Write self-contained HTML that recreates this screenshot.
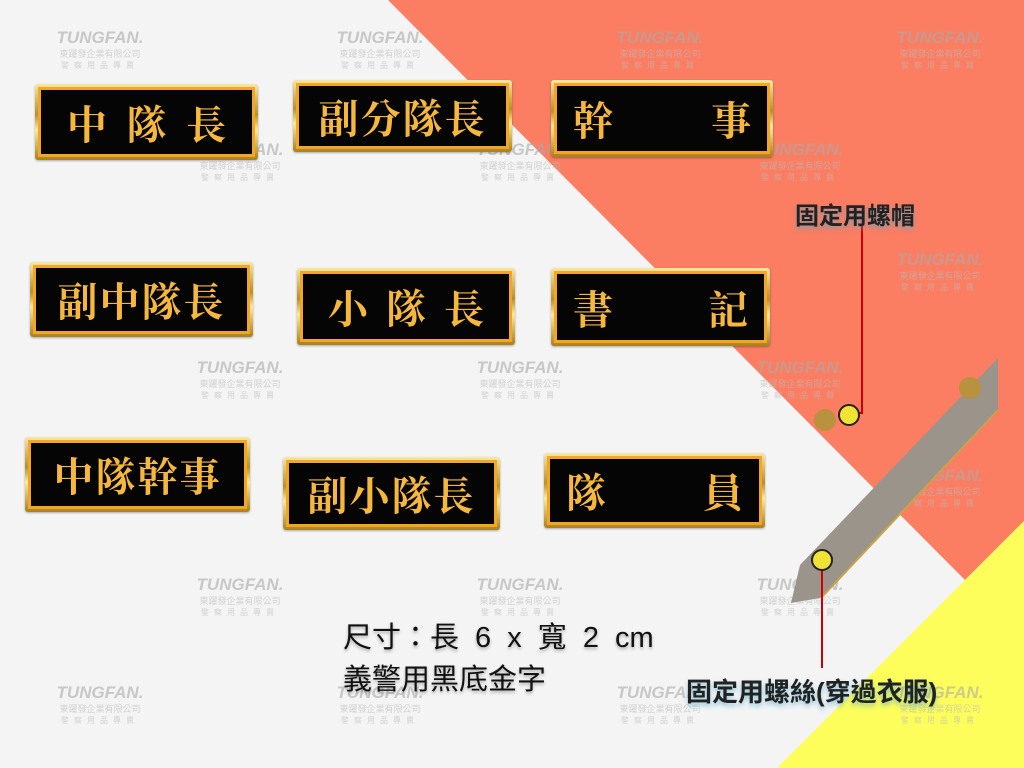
<!DOCTYPE html>
<html><head><meta charset="utf-8"><style>
body{margin:0;width:1024px;height:768px;overflow:hidden;background:#f4f4f4;position:relative;font-family:"Liberation Sans","Noto Sans CJK TC",sans-serif}
svg.bg{position:absolute;left:0;top:0}
.wm{position:absolute;width:100px;text-align:center;color:#bbb;opacity:.6}
.wm b{display:block;font:italic bold 17px "Liberation Sans",sans-serif;color:#aaa}
.wm i{display:block;font-style:normal;font-size:9px;line-height:12px}
.wm s{display:block;text-decoration:none;font-size:8px;letter-spacing:5px;line-height:11px}
.bd{position:absolute;box-sizing:border-box;background:linear-gradient(#f6e7a6,#b8902a 40%,#fbe9a0 60%,#a8801c);padding:3px;border-radius:3px;box-shadow:0 1px 2px rgba(0,0,0,.3)}
.bd div{width:100%;height:100%;box-sizing:border-box;background:#050505;border:3px solid #f2a623;display:flex;align-items:center;justify-content:space-around;padding:0 16px;color:#f6b83c;font:bold 40px "Noto Serif CJK TC","Noto Serif CJK SC",serif}
.lbl{position:absolute;font-weight:bold;color:#222;text-shadow:0 3px 5px rgba(80,170,200,.6);white-space:nowrap}
</style></head><body>
<svg class="bg" width="1024" height="768">
<polygon points="388,0 1024,0 1024,521 965,580" fill="#fb7d62"/>
<polygon points="1024,521 1024,768 777,768" fill="#fdfd5c"/>
</svg>
<div class="wm" style="left:50px;top:28px"><b>TUNGFAN.</b><i>東躍發企業有限公司</i><s>警察用品專賣</s></div>
<div class="wm" style="left:330px;top:28px"><b>TUNGFAN.</b><i>東躍發企業有限公司</i><s>警察用品專賣</s></div>
<div class="wm" style="left:610px;top:28px"><b>TUNGFAN.</b><i>東躍發企業有限公司</i><s>警察用品專賣</s></div>
<div class="wm" style="left:890px;top:28px"><b>TUNGFAN.</b><i>東躍發企業有限公司</i><s>警察用品專賣</s></div>
<div class="wm" style="left:190px;top:140px"><b>TUNGFAN.</b><i>東躍發企業有限公司</i><s>警察用品專賣</s></div>
<div class="wm" style="left:470px;top:140px"><b>TUNGFAN.</b><i>東躍發企業有限公司</i><s>警察用品專賣</s></div>
<div class="wm" style="left:750px;top:140px"><b>TUNGFAN.</b><i>東躍發企業有限公司</i><s>警察用品專賣</s></div>
<div class="wm" style="left:890px;top:250px"><b>TUNGFAN.</b><i>東躍發企業有限公司</i><s>警察用品專賣</s></div>
<div class="wm" style="left:190px;top:358px"><b>TUNGFAN.</b><i>東躍發企業有限公司</i><s>警察用品專賣</s></div>
<div class="wm" style="left:470px;top:358px"><b>TUNGFAN.</b><i>東躍發企業有限公司</i><s>警察用品專賣</s></div>
<div class="wm" style="left:750px;top:358px"><b>TUNGFAN.</b><i>東躍發企業有限公司</i><s>警察用品專賣</s></div>
<div class="wm" style="left:890px;top:466px"><b>TUNGFAN.</b><i>東躍發企業有限公司</i><s>警察用品專賣</s></div>
<div class="wm" style="left:190px;top:575px"><b>TUNGFAN.</b><i>東躍發企業有限公司</i><s>警察用品專賣</s></div>
<div class="wm" style="left:470px;top:575px"><b>TUNGFAN.</b><i>東躍發企業有限公司</i><s>警察用品專賣</s></div>
<div class="wm" style="left:750px;top:575px"><b>TUNGFAN.</b><i>東躍發企業有限公司</i><s>警察用品專賣</s></div>
<div class="wm" style="left:50px;top:683px"><b>TUNGFAN.</b><i>東躍發企業有限公司</i><s>警察用品專賣</s></div>
<div class="wm" style="left:330px;top:683px"><b>TUNGFAN.</b><i>東躍發企業有限公司</i><s>警察用品專賣</s></div>
<div class="wm" style="left:610px;top:683px"><b>TUNGFAN.</b><i>東躍發企業有限公司</i><s>警察用品專賣</s></div>
<div class="wm" style="left:890px;top:683px"><b>TUNGFAN.</b><i>東躍發企業有限公司</i><s>警察用品專賣</s></div>

<div class="bd" style="left:35px;top:84px;width:223px;height:76px"><div><span>中</span><span>隊</span><span>長</span></div></div>
<div class="bd" style="left:293px;top:80px;width:219px;height:72px"><div style="justify-content:center;letter-spacing:2px">副分隊長</div></div>
<div class="bd" style="left:551px;top:80px;width:222px;height:77px"><div style="justify-content:space-between"><span>幹</span><span>事</span></div></div>
<div class="bd" style="left:30px;top:262px;width:223px;height:75px"><div style="justify-content:center;letter-spacing:2px">副中隊長</div></div>
<div class="bd" style="left:297px;top:268px;width:218px;height:77px"><div><span>小</span><span>隊</span><span>長</span></div></div>
<div class="bd" style="left:551px;top:268px;width:219px;height:78px"><div style="justify-content:space-between"><span>書</span><span>記</span></div></div>
<div class="bd" style="left:25px;top:437px;width:225px;height:75px"><div style="justify-content:center;letter-spacing:2px">中隊幹事</div></div>
<div class="bd" style="left:283px;top:457px;width:217px;height:73px"><div style="justify-content:center;letter-spacing:2px">副小隊長</div></div>
<div class="bd" style="left:544px;top:453px;width:221px;height:75px"><div style="justify-content:space-between"><span>隊</span><span>員</span></div></div>

<svg class="bg" width="1024" height="768">
<polygon points="998,358 998,410 820,598 791,603 800,565" fill="#9a948a"/>
<line x1="998" y1="410" x2="822" y2="597" stroke="#c9a24a" stroke-width="2"/>
<circle cx="970" cy="388" r="11" fill="#b8923c"/>
<circle cx="825" cy="420" r="11" fill="#b8923c"/>
<path d="M862 225 V413 H848" stroke="#c00" stroke-width="2" fill="none"/>
<circle cx="849" cy="415" r="10" fill="#f1e233" stroke="#222" stroke-width="2"/>
<line x1="822" y1="560" x2="822" y2="668" stroke="#c00" stroke-width="2"/>
<circle cx="822" cy="560" r="10" fill="#f1e233" stroke="#222" stroke-width="2"/>
</svg>
<div class="lbl" style="left:795px;top:196px;font-size:24px">固定用螺帽</div>
<div class="lbl" style="left:686px;top:672px;font-size:26px">固定用螺絲(穿過衣服)</div>
<div style="position:absolute;left:343px;top:614px;font-size:29px;color:#111;text-shadow:0 2px 3px rgba(0,0,0,.3);white-space:nowrap;word-spacing:8px">尺寸：長 6 x 寬 2 cm</div>
<div style="position:absolute;left:343px;top:656px;font-size:29px;color:#111;text-shadow:0 2px 3px rgba(0,0,0,.3)">義警用黑底金字</div>
</body></html>
